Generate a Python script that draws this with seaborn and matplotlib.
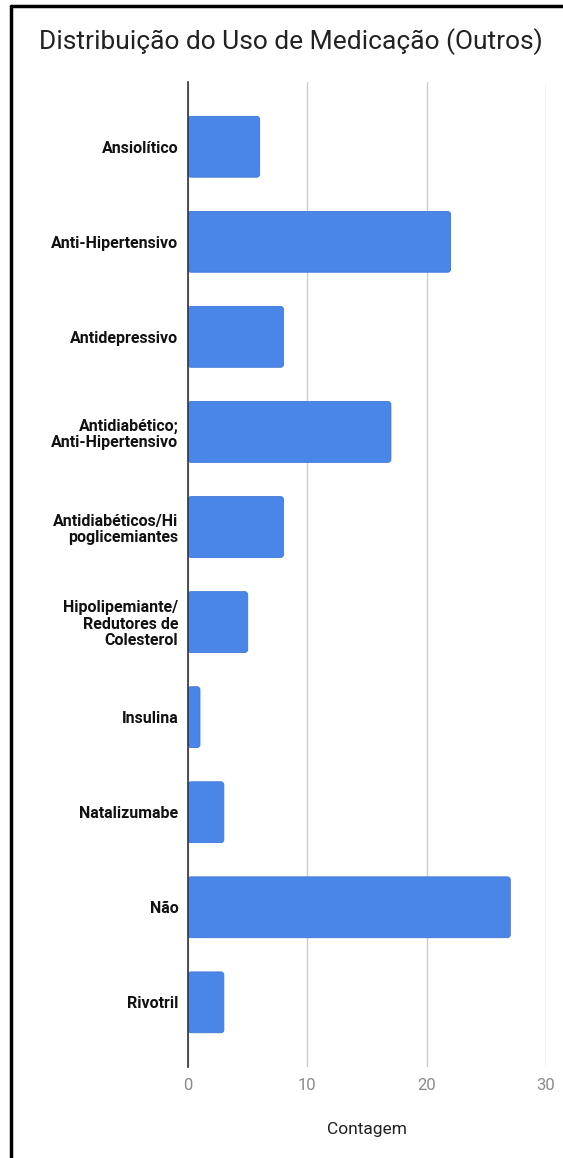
import matplotlib
matplotlib.use("Agg")
import matplotlib.pyplot as plt
import seaborn as sns
import pandas as pd
from matplotlib.lines import Line2D
from matplotlib.patches import FancyBboxPatch

categories = [
    "Ansiolítico",
    "Anti-Hipertensivo",
    "Antidepressivo",
    "Antidiabético;\nAnti-Hipertensivo",
    "Antidiabéticos/Hi\npoglicemiantes",
    "Hipolipemiante/\nRedutores de\nColesterol",
    "Insulina",
    "Natalizumabe",
    "Não",
    "Rivotril",
]
counts = [6, 22, 8, 17, 8, 5, 1, 3, 27, 3]
x_ticks = [0, 10, 20, 30]

df = pd.DataFrame({"Medicacao": categories, "Contagem": counts})

sns.set_theme(style="white")
plt.rcParams["font.family"] = ["Roboto", "DejaVu Sans"]

fig = plt.figure(figsize=(5.63, 11.58), dpi=100)
ax = fig.add_axes([0.334, 0.0786, 0.636, 0.8505])

sns.barplot(data=df, x="Contagem", y="Medicacao", orient="h", color="#4a86e8",
            saturation=1, width=0.64, ax=ax, zorder=3)

# round the bar corners slightly
bars = list(ax.patches)
for p in bars:
    x0, y0 = p.get_x(), p.get_y()
    w, h = p.get_width(), p.get_height()
    fc = p.get_facecolor()
    p.remove()
    fb = FancyBboxPatch((x0, y0), w, h,
                        boxstyle="round,pad=0,rounding_size=0.25",
                        mutation_aspect=0.126, facecolor=fc,
                        edgecolor="#3d77d6", linewidth=0.6, zorder=3)
    ax.add_patch(fb)

ax.set_xlim(0, 30)
ax.set_ylim(9.68, -0.68)
ax.set_xticks(x_ticks)
ax.set_xticklabels([str(t) for t in x_ticks], color="#8a8a8a", fontsize=12)
ax.tick_params(axis="x", length=0, pad=8)
ax.tick_params(axis="y", length=0, pad=7)
for lab in ax.get_yticklabels():
    lab.set_fontweight("bold")
    lab.set_fontsize(11.5)
    lab.set_color("#111111")
    lab.set_linespacing(1.1)

ax.xaxis.grid(True, color="#cccccc", linewidth=1, zorder=0)
ax.yaxis.grid(False)
for s in ["top", "right", "bottom"]:
    ax.spines[s].set_visible(False)
ax.spines["left"].set_color("#333333")
ax.spines["left"].set_linewidth(1.2)
ax.spines["left"].set_zorder(4)

ax.set_ylabel("")
ax.set_xlabel("Contagem", fontsize=12.5, color="#222222", labelpad=21)

fig.text(0.517, 0.964, "Distribuição do Uso de Medicação (Outros)", ha="center",
         va="center", fontsize=19, color="#222222")

# outer frame (left and top edges visible)
fig.add_artist(Line2D([0.0195, 0.0195], [0, 0.995], transform=fig.transFigure,
                      color="black", linewidth=2.5))
fig.add_artist(Line2D([0.0195, 1.0], [0.995, 0.995], transform=fig.transFigure,
                      color="black", linewidth=2.5))

fig.savefig("out.png", dpi=100)
